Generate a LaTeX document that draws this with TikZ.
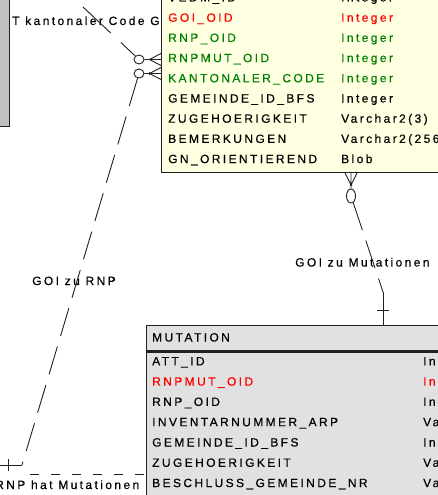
\documentclass[tikz,border=0pt]{standalone}
\usepackage{fontspec}
\setmainfont{Liberation Sans}[LetterSpace=20,FakeBold=0.4]
\usepackage{tikz}
\usetikzlibrary{positioning,calc,shapes.geometric}
\definecolor{pdYellow}{HTML}{FFFFE1}
\definecolor{pdGray}{HTML}{E1E1E1}
\definecolor{pdBox}{HTML}{C0C0C0}
\definecolor{pdLine}{HTML}{202020}
\definecolor{pdRed}{HTML}{FF0000}
\definecolor{pdGreen}{HTML}{008000}

\begin{document}
\begin{tikzpicture}[x=1pt,y=-1pt,font=\fontsize{12}{14}\selectfont,
    entity/.style={draw=pdLine,line width=1.3pt,inner sep=0pt},
    attr/.style={anchor=base west,inner sep=0pt},
    lbl/.style={anchor=base west,inner sep=0pt},
    rel/.style={draw=pdLine,line width=0.9pt,dash pattern=on 29pt off 11pt},
    card/.style={draw=pdLine,line width=0.9pt},
    opt/.style={draw=pdLine,line width=0.9pt,ellipse,fill=white,inner sep=0pt,
                minimum width=10pt,minimum height=9pt}]
  \useasboundingbox (0,0) rectangle (438,495);

  % relationship names
  \node[lbl] (lkc) at (12,25) {T kantonaler Code G};
  \node[lbl] (lgr) at (32,285) {GOI zu RNP};
  \node[lbl] (lgm) at (295,266.5) {GOI zu Mutationen};
  \node[lbl] (lrm) at (-5,489) {RNP hat Mutationen};

  % entities
  \node[entity,fill=pdBox,minimum width=40pt,minimum height=150pt,
        anchor=south east] (box) at (10,127) {};
  \node[entity,fill=pdYellow,minimum width=300pt,minimum height=220pt,
        anchor=south west] (goi) at (161,173) {};
  \node[entity,fill=pdGray,minimum width=300pt,minimum height=25pt,
        anchor=north west] (mhead) at (146,325) {};
  \node[entity,fill=pdGray,minimum width=300pt,minimum height=180pt,
        anchor=north west] (mutation) at (mhead.south west) {};

  \foreach \name/\typ/\col [count=\i from 0] in {
      VEDM\_ID/Integer/black, GOI\_OID/Integer/pdRed,
      RNP\_OID/Integer/pdGreen, RNPMUT\_OID/Integer/pdGreen,
      KANTONALER\_CODE/Integer/pdGreen, GEMEINDE\_ID\_BFS/Integer/black,
      ZUGEHOERIGKEIT/Varchar2(3)/black, BEMERKUNGEN/Varchar2(256)/black,
      GN\_ORIENTIEREND/Blob/black} {
    \node[attr,text=\col] (g\i) at (168,1.5+20.2*\i) {\name};
    \node[attr,text=\col] (gt\i) at (341,1.5+20.2*\i) {\typ};
  }

  \node[attr] (mname) at (152,341.5) {MUTATION};
  \foreach \name/\typ/\col [count=\i from 0] in {
      ATT\_ID/Integer/black, RNPMUT\_OID/Integer/pdRed,
      RNP\_OID/Integer/black, INVENTARNUMMER\_ARP/Varchar2/black,
      GEMEINDE\_ID\_BFS/Integer/black, ZUGEHOERIGKEIT/Varchar2/black,
      BESCHLUSS\_GEMEINDE\_NR/Varchar2/black} {
    \node[attr,text=\col] (m\i) at (152,365.3+20.3*\i) {\name};
    \node[attr,text=\col] (mt\i) at (423,365.3+20.3*\i) {\typ};
  }

  % optionality circles
  \node[opt] (c1) at (139,59.5) {};
  \node[opt] (c2) at (139,73.5) {};
  \node[opt,minimum width=9pt,minimum height=14pt] (c3) at (351,196) {};

  % crow's feet
  \draw[card] (c1.east) -- ++(5,0) coordinate (k1)
    (k1) -- (161,53.5) (k1) -- (161,59.5) (k1) -- (161,65.5);
  \draw[card] (c2.east) -- ++(5,0) coordinate (k2)
    (k2) -- (161,67.5) (k2) -- (161,73.5) (k2) -- (161,79.5);
  \fill[pdLine] (k2) circle (1.3pt);
  \coordinate (k3) at (351,185);
  \draw[card] (345,173) -- (k3) (351,173) -- (k3) (357,173) -- (k3) (k3) -- (c3);
  \fill[pdLine] (k3) circle (1.3pt);

  % relationships
  \coordinate (kcEnd) at (83,7);
  \draw[rel,dash pattern=on 38pt off 14pt] (kcEnd) -- (c1);

  \coordinate (rnpA) at (22,465);
  \coordinate (rnpB) at (-5,465);
  \draw[rel] (c2) -- (rnpA);
  \draw[card] (rnpA) -- (rnpB);
  \draw[card] (8,459) -- (8,471);

  \coordinate (mA) at (383,292);
  \draw[rel] (c3) -- (mA);
  \draw[card] (mA) -- (mA |- mhead.north);
  \draw[card] (377,310) -- (389,310);

  \coordinate (rnpC) at (30,474);
  \draw[rel,dash pattern=on 9pt off 12pt] (rnpC) -- (rnpC -| mutation.west);
\end{tikzpicture}
\end{document}
